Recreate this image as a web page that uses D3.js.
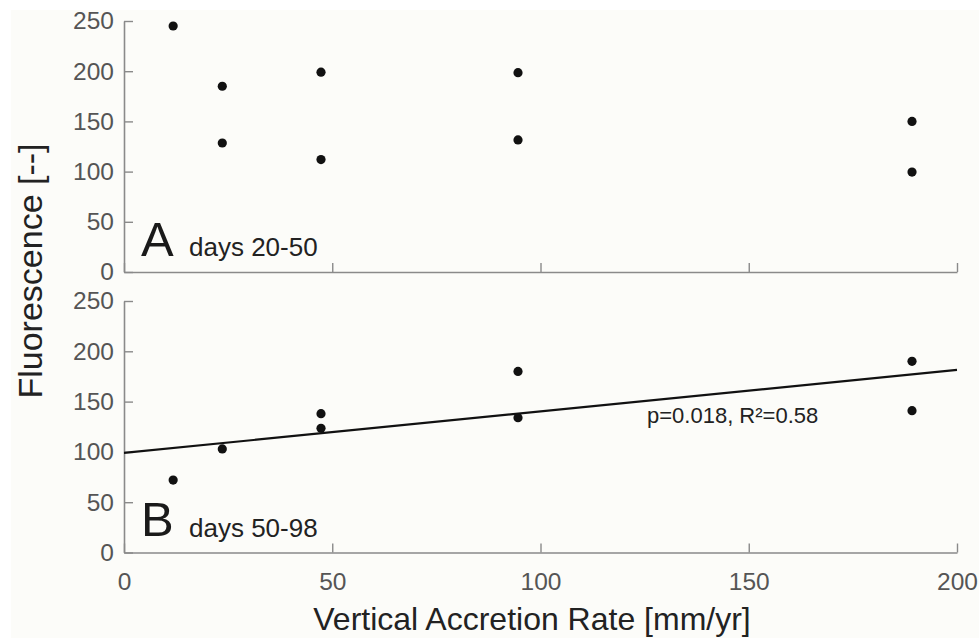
<!DOCTYPE html>
<html>
<head>
<meta charset="utf-8">
<script src="https://cdn.jsdelivr.net/npm/d3@7"></script>
<style>
  body { margin: 0; background: #ffffff; }
  svg text { font-family: "Liberation Sans", Arial, sans-serif; }
</style>
</head>
<body>
<div id="chart"></div>
<script>
// ---------------- data
const xTicks = [0, 50, 100, 150, 200]
const yTicks = [0, 50, 100, 150, 200, 250]

// panel A, days 20-50
const rateA = [11.8, 23.6, 23.6, 47.3, 47.3, 94.6, 94.6, 189.2, 189.2]
const fluoA = [245, 185, 128.5, 199, 112, 198.5, 131.5, 150, 99.5]

// panel B, days 50-98
const rateB = [11.8, 23.6, 47.3, 47.3, 94.6, 94.6, 189.2, 189.2]
const fluoB = [72, 103, 138, 123.5, 180, 134, 190, 141]

// fitted line in panel B (end points)
const fitRate = [0, 200]
const fitFluo = [99, 181.5]
const fitLabel = "p=0.018, R\u00B2=0.58"

const panels = [
  { letter: "A", days: "days 20-50", rate: rateA, fluo: fluoA, top: 21, bottom: 272, fit: false },
  { letter: "B", days: "days 50-98", rate: rateB, fluo: fluoB, top: 301, bottom: 552.5, fit: true }
]

//---------------- dimensions
const dims = { width: 979, height: 638, left: 124, right: 957 }

const svg = d3.select("#chart").append("svg")
  .attr("width", dims.width)
  .attr("height", dims.height)

// off-white plot background
svg.append("rect")
  .attr("x", 11).attr("y", 10)
  .attr("width", dims.width - 11).attr("height", dims.height - 10)
  .attr("fill", "#fcfcf9")

const xScale = d3.scaleLinear()
  .domain([0, 200])
  .range([dims.left, dims.right])

const axisColor = "#8a8a8a"

panels.forEach((p, i) => {
  const yScale = d3.scaleLinear()
    .domain([0, 250])
    .range([p.bottom, p.top])

  const g = svg.append("g")

  // y axis
  const yAxis = g.append("g")
    .attr("transform", `translate(${dims.left},0)`)
    .call(d3.axisLeft(yScale).tickValues(yTicks).tickSize(-9).tickPadding(10).tickSizeOuter(0))
  // x axis
  const xAxis = g.append("g")
    .attr("transform", `translate(0,${p.bottom})`)
    .call(d3.axisBottom(xScale).tickValues(xTicks).tickSize(-9).tickPadding(20).tickSizeOuter(0))

  ;[yAxis, xAxis].forEach(ax => {
    ax.select(".domain").attr("stroke", axisColor).attr("stroke-width", 1.6)
    ax.selectAll(".tick line").attr("stroke", axisColor).attr("stroke-width", 1.4)
    ax.selectAll(".tick text").attr("fill", "#555").attr("font-size", 24.5)
  })
  // only the bottom panel has x tick labels
  if (i === 0) xAxis.selectAll(".tick text").remove()

  // fitted line
  if (p.fit) {
    const line = d3.line()
      .x((d, k) => xScale(fitRate[k]))
      .y(d => yScale(d))
    g.append("path")
      .attr("d", line(fitFluo))
      .attr("fill", "none")
      .attr("stroke", "#111")
      .attr("stroke-width", 2.2)

    g.append("text")
      .attr("x", 647)
      .attr("y", 423)
      .attr("font-size", 22)
      .attr("fill", "#222")
      .text(fitLabel)
  }

  // dots
  g.selectAll("circle")
    .data(p.fluo)
    .join("circle")
    .attr("cx", (d, k) => xScale(p.rate[k]))
    .attr("cy", d => yScale(d))
    .attr("r", 4.6)
    .attr("fill", "#111")

  // panel letter + days
  g.append("text")
    .attr("x", 141)
    .attr("y", p.bottom - 16.5)
    .attr("font-size", 49)
    .attr("fill", "#1a1a1a")
    .text(p.letter)
  g.append("text")
    .attr("x", 189)
    .attr("y", p.bottom - 16)
    .attr("font-size", 26)
    .attr("fill", "#222")
    .text(p.days)
})

// axis titles
svg.append("text")
  .attr("x", 532)
  .attr("y", 630)
  .attr("text-anchor", "middle")
  .attr("font-size", 32)
  .attr("fill", "#222")
  .text("Vertical Accretion Rate [mm/yr]")

svg.append("text")
  .attr("transform", "translate(42,271) rotate(-90)")
  .attr("text-anchor", "middle")
  .attr("font-size", 34)
  .attr("fill", "#222")
  .text("Fluorescence [--]")
</script>
</body>
</html>
